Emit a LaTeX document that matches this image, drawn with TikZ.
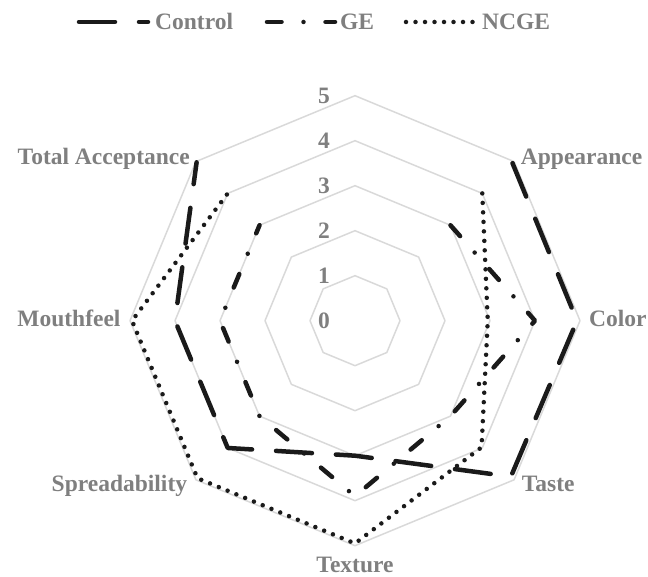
\documentclass[tikz,border=0pt]{standalone}
\usepackage{fontspec}
\setmainfont{Liberation Serif}
\usetikzlibrary{calc}
\definecolor{gridgray}{HTML}{D9D9D9}
\definecolor{txtgray}{HTML}{7F7F7F}
\definecolor{ink}{HTML}{1A1A1A}
\begin{document}
\begin{tikzpicture}[x=1pt,y=1pt,
  lbl/.style={text=txtgray,font=\fontsize{23.5}{28}\selectfont\bfseries,inner sep=0pt},
  gridline/.style={draw=gridgray,line width=1.5pt,line join=round},
  series/.style={draw=ink,line width=4.5pt,line cap=round,line join=round},
  ctrl/.style={series,dash pattern=on 36pt off 24pt},
  gel/.style={series,dash pattern=on 14.5pt off 22pt on 0pt off 22pt},
  ncge/.style={series,dash pattern=on 0pt off 9.5pt}]
\useasboundingbox (0,0) rectangle (648,577);
\coordinate (O) at (355,256.3);
\begin{scope}[shift={(O)}]
  \foreach \k in {1,...,5} {
    \pgfmathsetmacro\r{45*\k}
    \draw[gridline] (90:\r) -- (45:\r) -- (0:\r) -- (-45:\r) -- (-90:\r) -- (-135:\r) -- (180:\r) -- (135:\r) -- cycle;
  }
  \foreach \k in {0,...,5} {
    \node[lbl] (t\k) at (-31,45*\k) {\k};
  }
  % Control
  \coordinate (c1) at (45:222.75);
  \coordinate (c2) at (0:222);
  \coordinate (c3) at (-45:220.5);
  \coordinate (c4) at (-90:135);
  \coordinate (c5) at (-135:180);
  \coordinate (c6) at (180:180);
  \coordinate (c7) at (135:224);
  % GE
  \coordinate (g1) at (45:135);
  \coordinate (g2) at (0:180);
  \coordinate (g3) at (-45:135);
  \coordinate (g4) at (-90:175.5);
  \coordinate (g5) at (-135:135);
  \coordinate (g6) at (180:135);
  \coordinate (g7) at (135:135);
  % NCGE
  \coordinate (n1) at (45:180);
  \coordinate (n2) at (0:132.75);
  \coordinate (n3) at (-45:179);
  \coordinate (n4) at (-90:222.75);
  \coordinate (n5) at (-135:222.75);
  \coordinate (n6) at (180:223);
  \coordinate (n7) at (135:180);
\end{scope}
\draw[ctrl] (c1) -- (c2) -- (c3) -- (c4) -- (c5) -- (c6) -- (c7);
\draw[gel] (g1) -- (g2) -- (g3) -- (g4) -- (g5) -- (g6) -- (g7);
\draw[ncge] (n1) -- (n2) -- (n3) -- (n4) -- (n5) -- (n6) -- (n7);
% category labels
\node[lbl,anchor=base west] (lApp) at (520.7,412) {Appearance};
\node[lbl,anchor=base west] (lCol) at (589,250.3) {Color};
\node[lbl,anchor=base west] (lTas) at (521.7,85.3) {Taste};
\node[lbl,anchor=base] (lTex) at (355,4) {Texture};
\node[lbl,anchor=base east] (lSpr) at (187.3,85.3) {Spreadability};
\node[lbl,anchor=base east] (lMou) at (120.7,250.3) {Mouthfeel};
\node[lbl,anchor=base east] (lTot) at (190,412) {Total Acceptance};
% legend
\coordinate (lc1) at (79,555);
\coordinate (lc2) at (148,555);
\coordinate (lg1) at (267,555);
\coordinate (lg2) at (335,555);
\coordinate (ln1) at (406,555);
\coordinate (ln2) at (473,555);
\draw[ctrl] (lc1) -- (lc2);
\draw[gel] (lg1) -- (lg2);
\draw[ncge] (ln1) -- (ln2);
\node[lbl,anchor=base west] (legC) at (155,547.5) {Control};
\node[lbl,anchor=base west] (legG) at (340,547.5) {GE};
\node[lbl,anchor=base west] (legN) at (482,547.5) {NCGE};
\end{tikzpicture}
\end{document}
